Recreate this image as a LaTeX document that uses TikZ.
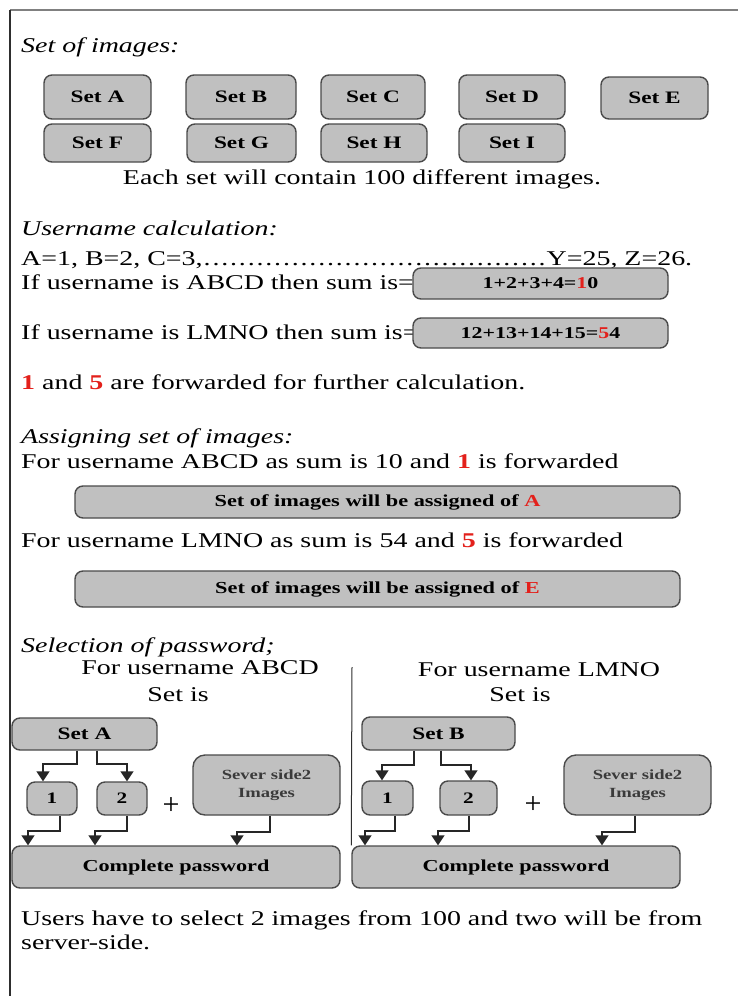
\documentclass[tikz,border=0pt]{standalone}
\usepackage{fontspec}
\setmainfont{Liberation Serif}
\usetikzlibrary{arrows.meta,calc}
\definecolor{boxfill}{HTML}{C0C0C0}
\definecolor{boxline}{HTML}{4A4A4A}
\definecolor{hred}{HTML}{E3201B}
\definecolor{framegray}{HTML}{808080}
\definecolor{framedark}{HTML}{2E2E2E}
\definecolor{sevtext}{HTML}{3A3A3A}
\newcommand{\wx}[1]{\scalebox{1.33}[1]{#1}}
\newcommand{\rd}[1]{\textcolor{hred}{\bfseries #1}}
\begin{document}
\begin{tikzpicture}[x=1pt,y=-1pt,
  gbox/.style={draw=boxline, fill=boxfill, line width=1.4pt, rounded corners=8pt, inner sep=0pt, align=center},
  setbox/.style={gbox, font=\fontsize{17.5}{20}\selectfont\bfseries},
  sumbox/.style={gbox, minimum width=255pt, font=\fontsize{16.5}{18}\selectfont\bfseries},
  asbox/.style={gbox, minimum width=605pt, font=\fontsize{16.8}{20}\selectfont\bfseries},
  numbox/.style={gbox, minimum height=33pt, font=\fontsize{16}{19}\selectfont\bfseries},
  sevbox/.style={gbox, minimum width=147pt, minimum height=60pt, rounded corners=12pt, font=\fontsize{14}{18}\selectfont\bfseries, text=sevtext},
  cpbox/.style={gbox, minimum width=328pt, minimum height=42pt, font=\fontsize{16.7}{20}\selectfont\bfseries},
  bodytxt/.style={inner sep=0pt, anchor=base west, font=\fontsize{21}{24}\selectfont},
  ctrtxt/.style={inner sep=0pt, anchor=base, font=\fontsize{21}{24}\selectfont},
  plustxt/.style={inner sep=0pt, anchor=center, font=\fontsize{30}{30}\selectfont},
  heading/.style={bodytxt, font=\fontsize{21}{24}\selectfont\itshape},
  arr/.style={draw=black!85, line width=1.4pt, -{Triangle[width=13pt,length=10pt]}}
]
\useasboundingbox (0,0) rectangle (738,996);
\fill[white] (0,0) rectangle (738,996);

% frame
\draw[framegray, line width=2pt] (10,10) -- (738,10);
\draw[framedark, line width=2pt] (10,10) -- (10,996);

% ---- Set of images
\node[heading] (h1) at (21,52) {\wx{Set of images:}};
\node[setbox, minimum width=107pt, minimum height=44pt] (sA) at (97.5,97) {\wx{Set A}};
\node[setbox, minimum width=110pt, minimum height=44pt] (sB) at (241,97) {\wx{Set B}};
\node[setbox, minimum width=104pt, minimum height=44pt] (sC) at (373,97) {\wx{Set C}};
\node[setbox, minimum width=106pt, minimum height=44pt] (sD) at (512,97) {\wx{Set D}};
\node[setbox, minimum width=107pt, minimum height=42pt] (sE) at (654.5,98) {\wx{Set E}};
\node[setbox, minimum width=107pt, minimum height=38pt] (sF) at (97.5,143) {\wx{Set F}};
\node[setbox, minimum width=109pt, minimum height=38pt] (sG) at (241.5,143) {\wx{Set G}};
\node[setbox, minimum width=106pt, minimum height=38pt] (sH) at (374,143) {\wx{Set H}};
\node[setbox, minimum width=106pt, minimum height=38pt] (sI) at (512,143) {\wx{Set I}};
\node[ctrtxt] (each) at (362,184) {\wx{Each set will contain 100 different images.}};

% ---- Username calculation
\node[heading] (h2) at (21,235) {\wx{Username calculation:}};
\node[bodytxt] (alpha) at (21,265) {\hbox to 671pt{\wx{A=1, B=2, C=3,}\xleaders\hbox to 8.6pt{\hss\wx{.}\hss}\hfill\wx{Y=25, Z=26.}}};
\node[bodytxt] (ifabcd) at (21,289) {\wx{If username is ABCD then sum is=}};
\node[sumbox, minimum height=31pt] (sum1) at (540.5,283.5) {\wx{1+2+3+4=\textcolor{hred}{1}0}};
\node[bodytxt] (iflmno) at (21,339) {\wx{If username is LMNO then sum is=}};
\node[sumbox, minimum height=30pt] (sum2) at (540.5,333) {\wx{12+13+14+15=\textcolor{hred}{5}4}};
\node[bodytxt] (fwd) at (21,389) {\wx{\rd{1} and \rd{5} are forwarded for further calculation.}};

% ---- Assigning set of images
\node[heading] (h3) at (21,443) {\wx{Assigning set of images:}};
\node[bodytxt] (fa) at (21,468) {\wx{For username ABCD as sum is 10 and \rd{1} is forwarded}};
\node[asbox, minimum height=32pt] (as1) at (377.5,502) {\wx{Set of images will be assigned of \textcolor{hred}{A}}};
\node[bodytxt] (fl) at (21,547) {\wx{For username LMNO as sum is 54 and \rd{5} is forwarded}};
\node[asbox, minimum height=36pt] (as2) at (377.5,589) {\wx{Set of images will be assigned of \textcolor{hred}{E}}};

% ---- Selection of password
\node[heading] (h4) at (21,652) {\wx{Selection of password;}};
\node[ctrtxt] (lh1) at (200,674) {\wx{For username ABCD}};
\node[ctrtxt] (lh2) at (178,701) {\wx{Set is}};
\node[ctrtxt] (rh1) at (539,676) {\wx{For username LMNO}};
\node[ctrtxt] (rh2) at (520,701) {\wx{Set is}};

% left
\node[setbox, minimum width=145pt, minimum height=32pt] (setAL) at (84.5,734) {\wx{Set A}};
\node[numbox, minimum width=50pt] (b1L) at (52,798.5) {\wx{1}};
\node[numbox, minimum width=50pt] (b2L) at (122,798.5) {\wx{2}};
\node[plustxt] (plusL) at (171,806) {+};
\node[sevbox] (svL) at (266.5,785) {\wx{Sever side2}\\\wx{Images}};
\node[cpbox] (cpL) at (176,867) {\wx{Complete password}};

% right
\node[setbox, minimum width=153pt, minimum height=33pt] (setBR) at (438.5,733.5) {\wx{Set B}};
\node[numbox, minimum width=51pt, minimum height=34pt] (b1R) at (387.5,798) {\wx{1}};
\node[numbox, minimum width=57pt, minimum height=34pt] (b2R) at (468.5,798) {\wx{2}};
\node[plustxt] (plusR) at (533,805) {+};
\node[sevbox] (svR) at (637.5,785) {\wx{Sever side2}\\\wx{Images}};
\node[cpbox] (cpR) at (516,867) {\wx{Complete password}};

% divider
\draw[framedark, line width=1pt] (352,667) -- (cpR.north west);

% arrows left
\draw[arr] (77,0 |- setAL.south) -- (77,764) -- (43,764) -- (43,0 |- b1L.north);
\draw[arr] (97,0 |- setAL.south) -- (97,764) -- (127,764) -- (127,0 |- b2L.north);
\draw[arr] (60,0 |- b1L.south) -- (60,831) -- (28,831) -- (28,0 |- cpL.north);
\draw[arr] (127,0 |- b2L.south) -- (127,831) -- (95,831) -- (95,0 |- cpL.north);
\draw[arr] (270,0 |- svL.south) -- (270,832) -- (237,832) -- (237,0 |- cpL.north);

% arrows right
\draw[arr] (414,0 |- setBR.south) -- (414,765) -- (382,765) -- (382,0 |- b1R.north);
\draw[arr] (441,0 |- setBR.south) -- (441,765) -- (471,765) -- (471,0 |- b2R.north);
\draw[arr] (395,0 |- b1R.south) -- (395,831) -- (365,831) -- (365,0 |- cpR.north);
\draw[arr] (469,0 |- b2R.south) -- (469,831) -- (438,831) -- (438,0 |- cpR.north);
\draw[arr] (635,0 |- svR.south) -- (635,832) -- (602,832) -- (602,0 |- cpR.north);

% final text
\node[bodytxt] (u1) at (21,925) {\wx{Users have to select 2 images from 100 and two will be from}};
\node[bodytxt] (u2) at (21,949) {\wx{server-side.}};
\end{tikzpicture}
\end{document}
